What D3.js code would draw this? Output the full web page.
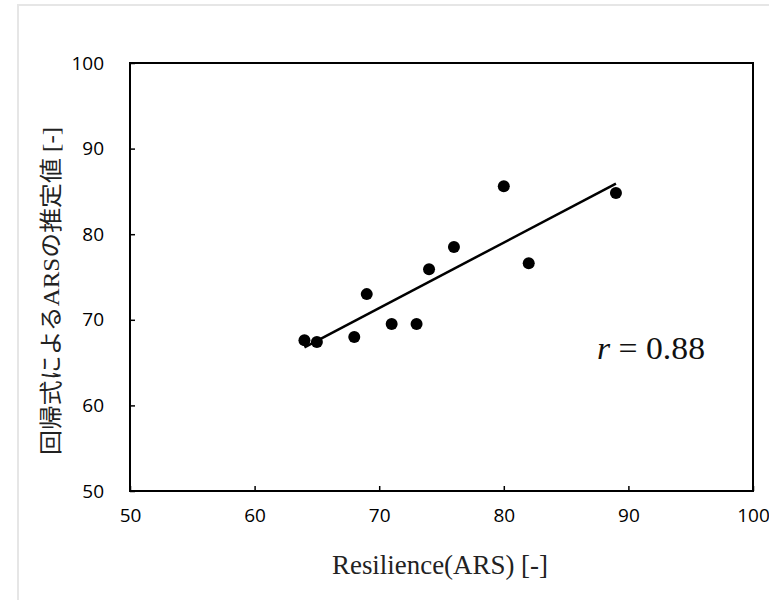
<!DOCTYPE html>
<html>
<head>
<meta charset="utf-8">
<script src="https://cdn.jsdelivr.net/npm/d3@7"></script>
<style>
  body { margin: 0; background: #fff; }
  svg { display: block; }
</style>
</head>
<body>
<div id="chart"></div>
<script>
// measured ARS vs. value estimated by the regression formula
var resilience = [64, 65, 68, 69, 71, 73, 74, 76, 80, 82, 89];
var estimated  = [67.6, 67.4, 68.0, 73.0, 69.5, 69.5, 75.9, 78.5, 85.6, 76.6, 84.8];
var xTicks = [50, 60, 70, 80, 90, 100];
var yTicks = [50, 60, 70, 80, 90, 100];

var xTitle = "Resilience(ARS) [-]";
var yTitle = "回帰式によるARSの推定値 [-]";

document.addEventListener("DOMContentLoaded", function(){
    var W = 769, H = 600;
    var left = 130, right = 753, top = 63, bottom = 491;

    var svg = d3.select("#chart").append("svg")
        .attr("width", W)
        .attr("height", H);

    // light frame around the whole chart
    svg.append("rect")
        .attr("x", 18).attr("y", 5)
        .attr("width", W).attr("height", H)
        .attr("fill", "#fff")
        .attr("stroke", "#e6e6e6")
        .attr("stroke-width", 2);

    var x = d3.scaleLinear().domain([50, 100]).range([left, right]);
    var y = d3.scaleLinear().domain([50, 100]).range([bottom, top]);

    var xAxis = svg.append("g")
        .attr("transform", `translate(0, ${bottom})`)
        .call(d3.axisBottom(x).tickValues(xTicks).tickSizeInner(-5).tickSizeOuter(0).tickPadding(18));
    var yAxis = svg.append("g")
        .attr("transform", `translate(${left}, 0)`)
        .call(d3.axisLeft(y).tickValues(yTicks).tickSizeInner(-5).tickSizeOuter(0).tickPadding(26));

    [xAxis, yAxis].forEach(function(a){
        a.select(".domain").remove();
        a.selectAll(".tick line").attr("stroke", "#000").attr("stroke-width", 1.5);
        a.selectAll(".tick text")
            .attr("fill", "#000")
            .style("font-family", "'Open Sans', sans-serif")
            .style("font-size", "19px");
    });

    svg.append("rect")
        .attr("x", left).attr("y", top)
        .attr("width", right - left).attr("height", bottom - top)
        .attr("fill", "none")
        .attr("stroke", "#000")
        .attr("stroke-width", 2);

    var pts = resilience.map(function(v, i){ return [v, estimated[i]]; });

    // least squares trend line over the data range
    var mx = d3.mean(resilience), my = d3.mean(estimated);
    var sxy = d3.sum(pts, function(p){ return (p[0] - mx) * (p[1] - my); });
    var sxx = d3.sum(resilience, function(v){ return (v - mx) * (v - mx); });
    var syy = d3.sum(estimated, function(v){ return (v - my) * (v - my); });
    var slope = sxy / sxx;
    var icpt = my - slope * mx;
    var r = sxy / Math.sqrt(sxx * syy);
    var ext = d3.extent(resilience);

    svg.append("line")
        .attr("x1", x(ext[0])).attr("y1", y(icpt + slope * ext[0]))
        .attr("x2", x(ext[1])).attr("y2", y(icpt + slope * ext[1]))
        .attr("stroke", "#000")
        .attr("stroke-width", 2.5);

    svg.selectAll("circle")
        .data(pts)
        .enter()
        .append("circle")
        .attr("cx", function(d){ return x(d[0]); })
        .attr("cy", function(d){ return y(d[1]); })
        .attr("r", 6)
        .attr("fill", "#000");

    var rLabel = svg.append("text")
        .attr("x", 597).attr("y", 359)
        .attr("textLength", 108)
        .attr("lengthAdjust", "spacingAndGlyphs")
        .style("font-family", "'Liberation Serif', serif")
        .style("font-size", "31px")
        .attr("fill", "#111");
    rLabel.append("tspan").style("font-style", "italic").text("r");
    rLabel.append("tspan").text(" = " + d3.format(".2f")(r));

    svg.append("text")
        .attr("x", 332).attr("y", 574)
        .attr("textLength", 216)
        .attr("lengthAdjust", "spacingAndGlyphs")
        .style("font-family", "'Liberation Serif', serif")
        .style("font-size", "28px")
        .attr("fill", "#222")
        .text(xTitle);

    svg.append("text")
        .attr("transform", "translate(59, 291) rotate(-90)")
        .attr("text-anchor", "middle")
        .attr("textLength", 328)
        .attr("lengthAdjust", "spacingAndGlyphs")
        .style("font-family", "'Liberation Serif', 'Noto Sans CJK JP', serif")
        .style("font-size", "23px")
        .attr("fill", "#222")
        .text(yTitle);
});
</script>
</body>
</html>
